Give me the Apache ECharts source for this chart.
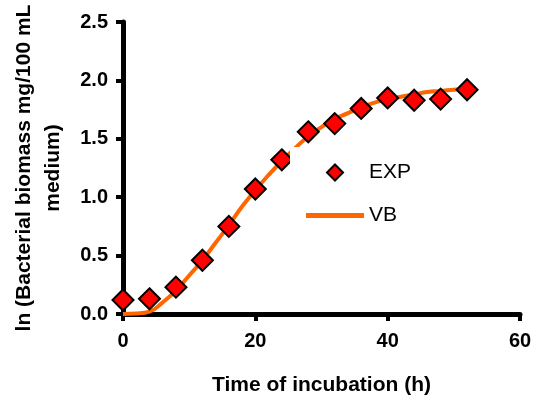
<!DOCTYPE html>
<html lang="en">
<head>
    <meta charset="UTF-8">
    <title>Bacterial biomass growth</title>
    <script src="https://cdn.jsdelivr.net/npm/echarts@6/dist/echarts.min.js"></script>
    <style>
        html, body{ margin:0; padding:0; background:#fff; }
        #main{ width:542px; height:401px; }
    </style>
</head>
<body>
    <div id="main"></div>
    <script>
        // measured points
        var expTime = [0, 4, 8, 12, 16, 20, 24, 28, 32, 36, 40, 44, 48, 52];
        var expVal = [0.12, 0.13, 0.23, 0.46, 0.75, 1.07, 1.32, 1.56, 1.63, 1.76, 1.85, 1.83, 1.84, 1.92];
        // fitted VB curve
        var vbTime = [0, 2, 4, 6, 8, 10, 12, 14, 16, 18, 20, 22, 24, 26, 28, 30, 32, 34, 36, 38, 40, 42, 44, 46, 48, 50, 52];
        var vbVal = [0.0, 0.004, 0.02, 0.1, 0.2, 0.33, 0.46, 0.61, 0.76, 0.92, 1.06, 1.19, 1.31, 1.42, 1.52, 1.6, 1.67, 1.72, 1.77, 1.81, 1.84, 1.86, 1.88, 1.9, 1.91, 1.92, 1.93];
        var xTicks = [0, 20, 40, 60];
        var yTicks = [0, 0.5, 1.0, 1.5, 2.0, 2.5];

        var expData = expTime.map(function(t, i){ return [t, expVal[i]]; });
        var vbData = vbTime.map(function(t, i){ return [t, vbVal[i]]; });

        var myChart = echarts.init(document.getElementById('main'));
        var font = 'Arial, "Liberation Sans", sans-serif';
        var option = {
            backgroundColor:'#fff',
            animation:false,
            grid:{ left:123, right:22, top:22, bottom:85 },
            legend:{
                orient:'vertical',
                left:290, top:147,
                padding:[15, 5, 5, 16],
                backgroundColor:'#fff',
                itemWidth:58, itemHeight:16, itemGap:22,
                symbolKeepAspect:true,
                textStyle:{ fontFamily:font, fontSize:21, color:'#000' },
                data:[
                    { name:'EXP', icon:'path://M0,-1L1,0L0,1L-1,0Z' },
                    { name:'VB', icon:'path://M0,0H58V5H0Z' }
                ]
            },
            xAxis:{
                type:'value',
                min:xTicks[0], max:xTicks[xTicks.length - 1], interval:20,
                name:'Time of incubation (h)',
                nameLocation:'middle', nameGap:61,
                nameTextStyle:{ fontFamily:font, fontSize:21, fontWeight:'bold', color:'#000' },
                axisLine:{ lineStyle:{ color:'#000', width:5 } },
                axisTick:{ length:7, lineStyle:{ color:'#000', width:4 } },
                axisLabel:{ margin:17, fontFamily:font, fontSize:20, fontWeight:'bold', color:'#000' },
                splitLine:{ show:false }
            },
            yAxis:{
                type:'value',
                min:yTicks[0], max:yTicks[yTicks.length - 1], interval:0.5,
                name:'ln (Bacterial biomass mg/100 mL\nmedium)',
                nameLocation:'middle', nameGap:55, nameRotate:90,
                nameTextStyle:{ fontFamily:font, fontSize:21, fontWeight:'bold', color:'#000', lineHeight:29 },
                axisLine:{ show:true, lineStyle:{ color:'#000', width:5 } },
                axisTick:{ show:true, length:7, lineStyle:{ color:'#000', width:4 } },
                axisLabel:{ margin:15, fontFamily:font, fontSize:20, fontWeight:'bold', color:'#000',
                    formatter:function(v){ return v.toFixed(1); } },
                splitLine:{ show:false }
            },
            series:[
                {
                    name:'EXP',
                    type:'scatter',
                    data:expData,
                    symbol:'diamond',
                    symbolSize:[21, 21],
                    itemStyle:{ color:'#ff0000', borderColor:'#000', borderWidth:2, opacity:1 },
                    z:3
                },
                {
                    name:'VB',
                    type:'line',
                    data:vbData,
                    smooth:true,
                    showSymbol:false,
                    symbol:'none',
                    lineStyle:{ color:'#ff6600', width:4 },
                    itemStyle:{ color:'#ff6600' },
                    z:2
                }
            ]
        };
        myChart.setOption(option);
    </script>
</body>
</html>
